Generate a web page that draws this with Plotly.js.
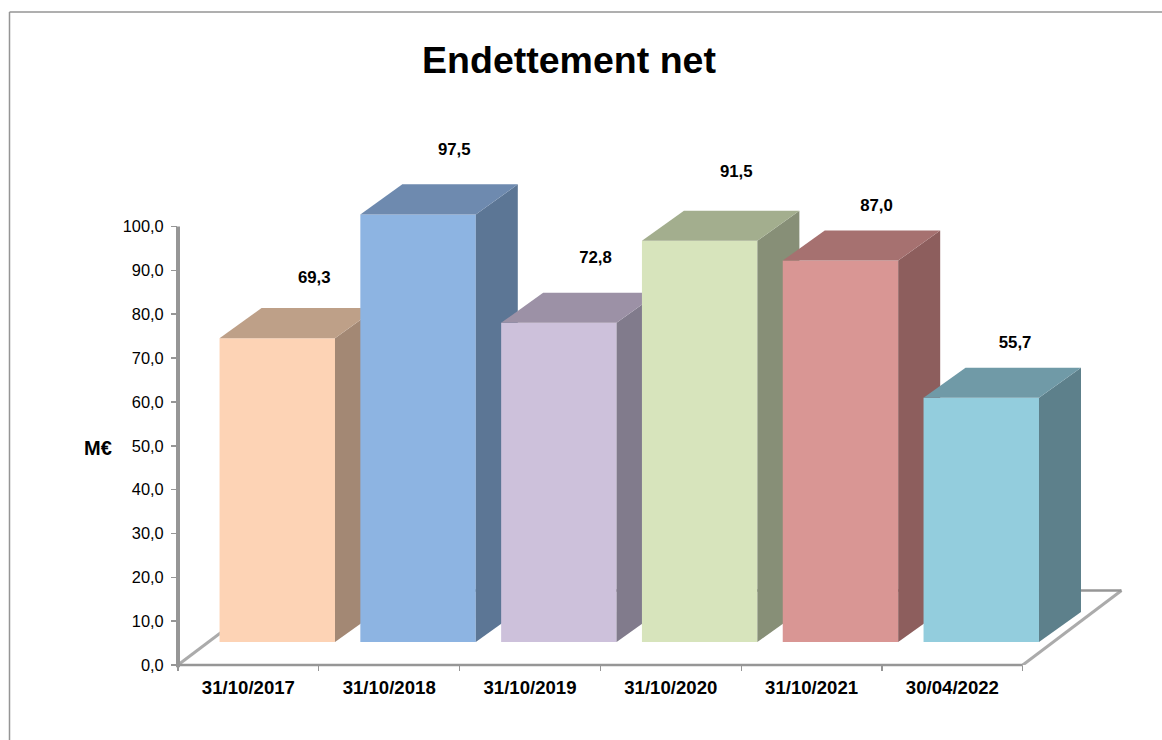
<!DOCTYPE html>
<html>
<head>
<meta charset="utf-8">
<script src="https://cdn.plot.ly/plotly-3.0.1.min.js"></script>
<style>html,body{margin:0;padding:0;background:#fff}#c{width:1162px;height:740px}</style>
</head>
<body>
<div id="c"></div>
<script>
// Data
const categories = ["31/10/2017","31/10/2018","31/10/2019","31/10/2020","31/10/2021","30/04/2022"];
const values = [69.3,97.5,72.8,91.5,87.0,55.7];
const valueLabels = ["69,3","97,5","72,8","91,5","87,0","55,7"];
const labelHeights = [88.1,117.3,92.6,112.2,104.5,73.2];
const labelXs = [0.468,1.462,2.465,3.465,4.461,5.445];
const frontColors = ["#FDD3B5","#8DB4E2","#CDC1DB","#D7E4BC","#D99694","#93CDDD"];
const topColors   = ["#BEA088","#6E8AAF","#9C91A6","#A3AE8E","#A67170","#709AA7"];
const sideColors  = ["#A38874","#5C7695","#817B8C","#878F77","#8D5E5D","#5D808B"];
const yTicks = [0,10,20,30,40,50,60,70,80,90,100];
const yTickText = ["0,0","10,0","20,0","30,0","40,0","50,0","60,0","70,0","80,0","90,0","100,0"];

// Layout constants (pixels → axis units)
const W = 1162, H = 740;
const pLeft = 178, pRight = 1140, pBottom = 665, pTop = 130;
const pxX = 140.8, pxY = 4.385;
const xRange = [-0.5, -0.5 + (pRight-pLeft)/pxX];
const yRange = [0, (pBottom-pTop)/pxY];
const barShift = 0.205, barWidth = 0.82;
const baseLift = 22.9/pxY;
const depthX = 42/pxX, depthY = 30.2/pxY;
const floorX = 98.7/pxX, floorY = 74.5/pxY;
const axisGrey = "#969696";
const paperX = px => (px-pLeft)/(pRight-pLeft);
const paperY = px => (pBottom-px)/(pBottom-pTop);

const traces = [];
// floor edges (main subplot, behind all bars)
traces.push({type:"scatter",mode:"lines",x:[-0.5,-0.5+floorX],y:[0,floorY],
  line:{color:"#ababab",width:3},hoverinfo:"skip",showlegend:false});
traces.push({type:"scatter",mode:"lines",x:[5.5,5.5+floorX],y:[0,floorY],
  line:{color:"#ababab",width:3},hoverinfo:"skip",showlegend:false});
traces.push({type:"scatter",mode:"lines",x:[-0.5+floorX,5.5+floorX],y:[floorY,floorY],
  line:{color:axisGrey,width:2.5},hoverinfo:"skip",showlegend:false});

const layout = {
  width:W,height:H,showlegend:false,
  margin:{l:pLeft,r:W-pRight,t:pTop,b:H-pBottom,pad:0,autoexpand:false},
  paper_bgcolor:"#fff",plot_bgcolor:"rgba(0,0,0,0)",
  font:{family:"Liberation Sans, Arial, sans-serif",color:"#000"},
  title:{text:"<b>Endettement net</b>",font:{size:37.5,color:"#000"},
    x:569/W,xref:"container",xanchor:"center",y:1-60/H,yref:"container",yanchor:"middle"},
  xaxis:{range:xRange,showgrid:false,zeroline:false,showline:false,
    tickmode:"array",tickvals:categories.map((c,i)=>i),ticktext:categories.map(c=>"<b>"+c+"</b>"),
    ticks:"outside",ticklen:6,tickcolor:"rgba(0,0,0,0)",tickfont:{size:18.6,color:"#000"},
    minor:{tickmode:"array",tickvals:[-0.5,0.5,1.5,2.5,3.5,4.5,5.5],ticks:"outside",ticklen:5,tickwidth:1.2,tickcolor:axisGrey,showgrid:false}},
  yaxis:{range:yRange,showgrid:false,zeroline:false,showline:false,
    tickmode:"array",tickvals:yTicks,ticktext:yTickText,ticklabelstandoff:4,
    ticks:"outside",ticklen:6,tickwidth:1.5,tickcolor:axisGrey,tickfont:{size:16.4,color:"#000"}},
  annotations:[{text:"<b>M€</b>",xref:"paper",yref:"paper",showarrow:false,
    x:paperX(98),y:paperY(448),xanchor:"center",yanchor:"middle",font:{size:20,color:"#000"}}],
  shapes:[
    {type:"line",xref:"paper",yref:"paper",x0:paperX(9.5),x1:paperX(W),y0:paperY(12),y1:paperY(12),line:{color:"#959595",width:1.5}},
    {type:"line",xref:"paper",yref:"paper",x0:paperX(9.5),x1:paperX(9.5),y0:paperY(12),y1:paperY(H),line:{color:"#959595",width:1.5}},
    // value axis line, 0 to 100
    {type:"line",xref:"paper",yref:"paper",x0:0,x1:0,y0:-0.004,y1:100/yRange[1],line:{color:axisGrey,width:4}},
    // category axis line
    {type:"line",xref:"paper",yref:"paper",x0:0,x1:6*pxX/(pRight-pLeft),y0:0,y1:0,line:{color:axisGrey,width:2.6}}
  ]
};

// one overlaid subplot per bar so that later bars sit in front of earlier ones
values.forEach((v,i)=>{
  const n = i+2, xa = "x"+n, ya = "y"+n;
  layout["xaxis"+n] = {overlaying:"x",range:xRange,visible:false,anchor:ya};
  layout["yaxis"+n] = {overlaying:"y",range:yRange,visible:false,anchor:xa};
  const xl = i+barShift-barWidth/2, xr = i+barShift+barWidth/2;
  const yb = baseLift, yt = baseLift+v;
  traces.push({type:"bar",x:[i+barShift],y:[v],base:[baseLift],width:[barWidth],xaxis:xa,yaxis:ya,
    marker:{color:frontColors[i],line:{width:0}},name:categories[i],showlegend:false,hoverinfo:"skip"});
  traces.push({type:"scatter",mode:"lines",fill:"toself",fillcolor:sideColors[i],line:{width:0,color:sideColors[i]},
    x:[xr,xr+depthX,xr+depthX,xr,xr],y:[yb,yb+depthY,yt+depthY,yt,yb],xaxis:xa,yaxis:ya,showlegend:false,hoverinfo:"skip"});
  traces.push({type:"scatter",mode:"lines",fill:"toself",fillcolor:topColors[i],line:{width:0,color:topColors[i]},
    x:[xl,xl+depthX,xr+depthX,xr,xl],y:[yt,yt+depthY,yt+depthY,yt,yt],xaxis:xa,yaxis:ya,showlegend:false,hoverinfo:"skip"});
});
// value labels on top of everything
traces.push({type:"scatter",mode:"text",x:labelXs,y:labelHeights,
  text:valueLabels.map(t=>"<b>"+t+"</b>"),textposition:"middle center",textfont:{size:16.8,color:"#000"},
  xaxis:"x7",yaxis:"y7",cliponaxis:false,showlegend:false,hoverinfo:"skip"});

Plotly.newPlot("c",traces,layout,{displayModeBar:false,staticPlot:true});
</script>
</body>
</html>
